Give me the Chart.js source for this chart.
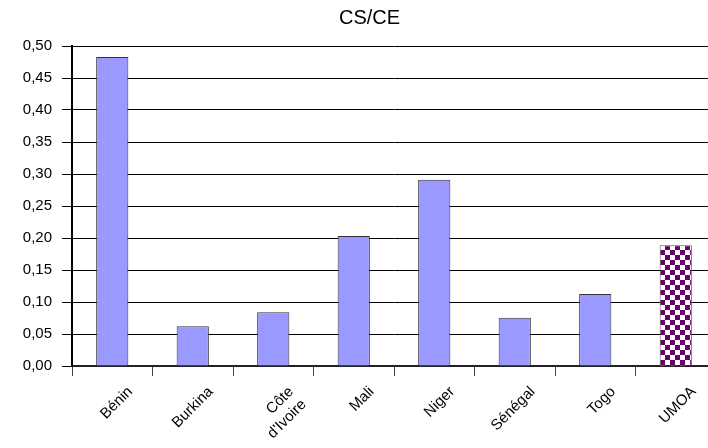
<!DOCTYPE html>
<html>
<head>
<meta charset="utf-8">
<script src="https://cdn.jsdelivr.net/npm/chart.js@4/dist/chart.umd.min.js"></script>
<style>
  html, body { margin: 0; padding: 0; background: #fff; overflow: hidden; }
  #wrap { width: 739px; height: 448px; }
</style>
</head>
<body>
<div id="wrap"><canvas id="chart" width="739" height="448"></canvas></div>
<script>
// Ratio CS/CE by country, UMOA aggregate last
const countries = ['Bénin', 'Burkina', ['Côte', "d'Ivoire"], 'Mali', 'Niger', 'Sénégal', 'Togo', 'UMOA'];
const ratios = [0.483, 0.062, 0.084, 0.203, 0.291, 0.0755, 0.1125, 0.1886];
const yTicks = { min: 0, max: 0.5, step: 0.05 };
const chartTitle = 'CS/CE';

const FONT = "'Liberation Sans', Arial, sans-serif";

// purple / white checkerboard for the aggregate bar
function checker() {
    const c = document.createElement('canvas');
    const s = 5;
    c.width = s * 2; c.height = s * 2;
    const g = c.getContext('2d');
    g.fillStyle = '#ffffff';
    g.fillRect(0, 0, s * 2, s * 2);
    g.fillStyle = '#660066';
    g.fillRect(0, 0, s, s);
    g.fillRect(s, s, s, s);
    return g.createPattern(c, 'repeat');
}

// title centred on the whole canvas rather than the plot
const titlePlugin = {
    id: 'canvasTitle',
    afterDraw(chart) {
        const g = chart.ctx;
        g.save();
        g.font = '20px ' + FONT;
        g.fillStyle = '#000';
        g.textAlign = 'center';
        g.textBaseline = 'middle';
        g.fillText(chartTitle, chart.width / 2, 18);
        g.restore();
    }
};

const ctx = document.getElementById('chart').getContext('2d');
const fills = countries.map((c, i) => i === countries.length - 1 ? checker() : '#9999ff');
const borders = countries.map((c, i) => i === countries.length - 1 ? '#555555' : '#333333');

Chart.defaults.font.family = FONT;
Chart.defaults.color = '#000';

new Chart(ctx, {
    type: 'bar',
    data: {
        labels: countries,
        datasets: [{
            data: ratios,
            backgroundColor: fills,
            borderColor: borders,
            borderWidth: 1,
            categoryPercentage: 1,
            barPercentage: 0.4
        }]
    },
    options: {
        responsive: false,
        animation: false,
        layout: { padding: { left: 0, right: 23, top: 46, bottom: 0 } },
        plugins: {
            legend: { display: false },
            tooltip: { enabled: false },
            title: { display: false }
        },
        scales: {
            x: {
                afterFit: s => { s.height = 82; },
                grid: { drawOnChartArea: false, drawTicks: true, tickLength: 10, color: '#444', offset: true },
                border: { color: '#222', width: 2 },
                ticks: { maxRotation: 45, minRotation: 45, autoSkip: false, font: { size: 15 }, padding: 7, labelOffset: 18 }
            },
            y: {
                min: yTicks.min,
                max: yTicks.max,
                afterFit: s => { s.width = 72; },
                grid: { color: '#000', lineWidth: 1, tickLength: 10 },
                border: { color: '#000', width: 2 },
                ticks: {
                    stepSize: yTicks.step,
                    font: { size: 15 },
                    padding: 10,
                    callback: v => v.toFixed(2).replace('.', ',')
                }
            }
        }
    },
    plugins: [titlePlugin]
});
</script>
</body>
</html>
